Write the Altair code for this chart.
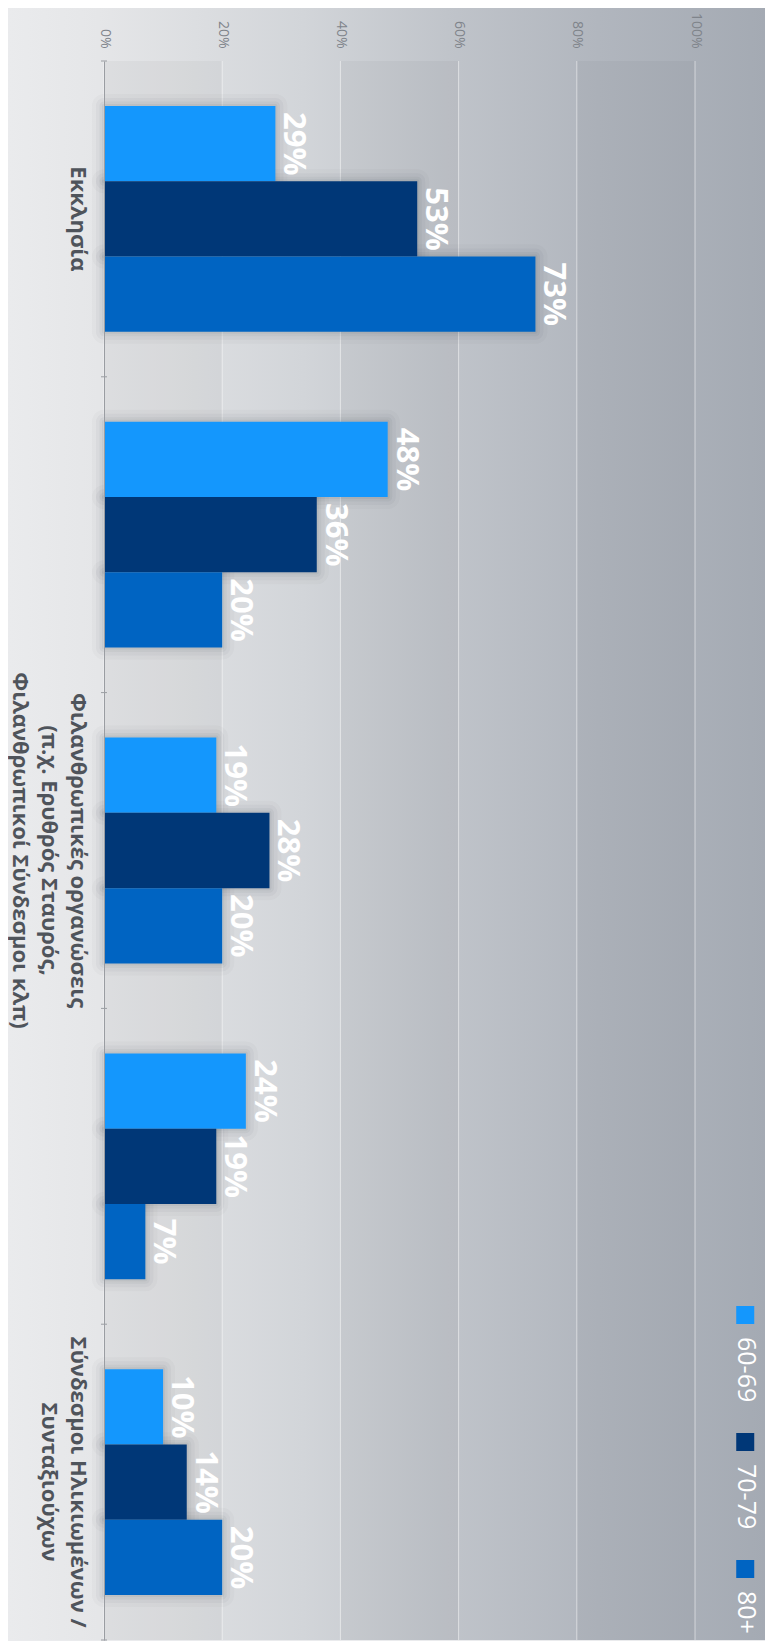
import json
import altair as alt
import pandas as pd

# ---------------- data ----------------
group_ids = [0, 1, 2, 3, 4]
group_labels = [
    "Εκκλησία",
    "",
    "Φιλανθρωπικές οργανώσεις|(π.χ. Ερυθρός Σταυρός,|Φιλανθρωπικοί Σύνδεσμοι κλπ)",
    "",
    "Σύνδεσμοι Ηλικιωμένων /|Συνταξιούχων",
]
series = ["60-69", "70-79", "80+"]
series_colors = ["#1497fd", "#003777", "#0064c2"]
values_60_69 = [29, 48, 19, 24, 10]
values_70_79 = [53, 36, 28, 19, 14]
values_80_plus = [73, 20, 20, 7, 20]
x_ticks = [0, 20, 40, 60, 80, 100]
band_starts = [0, 40, 80]
band_ends = [20, 60, 100]
group_boundaries = list(range(len(group_ids) + 1))

# ---------------- layout ----------------
W = 591
H = 1579
LEFT = 96
TOP = 53
TOTAL_W = 757
TOTAL_H = 1632
FONT = "Open Sans"

rows = []
for s, vals in zip(series, [values_60_69, values_70_79, values_80_plus]):
    for g, v in zip(group_ids, vals):
        rows.append({"g": g, "series": s, "value": v, "label": f"{v}%"})
df = pd.DataFrame(rows)
ticks_df = pd.DataFrame({"t": x_ticks})
bands_df = pd.DataFrame({"start": band_starts, "end": band_ends})
legend_df = pd.DataFrame({"series": series})
bound_df = pd.DataFrame({"b": group_boundaries})
one_df = pd.DataFrame({"a": [0]})

x_scale = alt.Scale(domain=[0, 100], nice=False)
color_scale = alt.Scale(domain=series, range=series_colors)
label_expr = "split(" + json.dumps(group_labels, ensure_ascii=False) + "[datum.value], '|')"

x_axis = alt.Axis(
    title=None,
    orient="top",
    values=x_ticks,
    labelExpr="datum.value + '%'",
    labelAngle=90,
    labelAlign="right",
    labelBaseline="middle",
    labelFont=FONT,
    labelFontSize=14,
    labelColor="#7f848b",
    labelPadding=13,
    labelOverlap=False,
    labelFlush=False,
    ticks=False,
    domain=False,
    grid=False,
    minExtent=TOP,
    maxExtent=TOP,
    zindex=1,
)

y_enc = alt.Y(
    "g:O",
    scale=alt.Scale(domain=group_ids, paddingInner=0.285, paddingOuter=0.1425),
    axis=alt.Axis(
        title=None,
        orient="left",
        labelExpr=label_expr,
        labelAngle=90,
        labelAlign="center",
        labelBaseline="top",
        labelFont=FONT,
        labelFontSize=22,
        labelFontWeight="bold",
        labelColor="#4f545b",
        labelLineHeight=29,
        labelPadding=17,
        labelLimit=0,
        labelOverlap=False,
        ticks=False,
        domainColor="#9a9da2",
        grid=False,
        minExtent=LEFT,
        maxExtent=LEFT,
        zindex=1,
    ),
)
x_enc = alt.X("value:Q", scale=x_scale, axis=x_axis)
yoff = alt.YOffset("series:N", scale=alt.Scale(domain=series))
color = alt.Color("series:N", scale=color_scale, legend=None)

# background gradient
bg = alt.Chart(one_df).mark_rect(
    color=alt.LinearGradient(
        gradient="linear",
        x1=0, x2=1, y1=0, y2=0,
        stops=[
            alt.GradientStop(color="#eaebed", offset=0),
            alt.GradientStop(color="#e5e6e8", offset=0.12),
            alt.GradientStop(color="#d2d5d9", offset=0.39),
            alt.GradientStop(color="#c0c4ca", offset=0.58),
            alt.GradientStop(color="#b1b6be", offset=0.78),
            alt.GradientStop(color="#a4aab3", offset=1),
        ],
    )
).encode(
    x=alt.value(-LEFT), x2=alt.value(TOTAL_W - LEFT),
    y=alt.value(-TOP), y2=alt.value(TOTAL_H - TOP),
)

bands = alt.Chart(bands_df).mark_rect(color="#000000", opacity=0.03).encode(
    x=alt.X("start:Q", scale=x_scale, axis=x_axis), x2="end:Q",
    y=alt.value(0), y2=alt.value(H),
)
grid = alt.Chart(ticks_df).mark_rule(color="#ffffff", opacity=0.5, strokeWidth=1).encode(
    x=alt.X("t:Q", scale=x_scale, axis=x_axis)
)

base = alt.Chart(df)
shadows = [
    base.mark_bar(fillOpacity=0, stroke="#1c2633", strokeOpacity=op, strokeWidth=w, strokeJoin="round")
    .encode(x=x_enc, y=y_enc, yOffset=yoff)
    for w, op in [(24, 0.025), (16, 0.035), (9, 0.045), (4, 0.05)]
]
bars = base.mark_bar().encode(x=x_enc, y=y_enc, yOffset=yoff, color=color)
labels = base.mark_text(
    angle=90, align="center", baseline="alphabetic", dy=-9,
    font=FONT, fontSize=31, fontWeight="bold", color="#ffffff",
).encode(x=x_enc, y=y_enc, yOffset=yoff, text="label:N")

main = alt.layer(bands, grid, *shadows, bars, labels)

# category boundary ticks on the category axis
bound_ticks = alt.Chart(bound_df).mark_rule(color="#9a9da2", strokeWidth=1).encode(
    x=alt.value(-3), x2=alt.value(3),
    y=alt.Y("b:Q", scale=alt.Scale(domain=[0, len(group_ids)], nice=False, zero=False, reverse=True), axis=None),
)

# custom legend (rotated)
leg_y = alt.Y("series:N", scale=alt.Scale(type="point", domain=series, range=[1254, 1508], padding=0), axis=None)
leg_x = alt.XDatum(108.5, type="quantitative", scale=x_scale, axis=x_axis)
leg_sq = alt.Chart(legend_df).mark_square(size=324, opacity=1).encode(x=leg_x, y=leg_y, color=color)
leg_tx = alt.Chart(legend_df).mark_text(
    angle=90, align="left", baseline="middle", dx=22, dy=-1,
    font=FONT, fontSize=25, color="#ffffff",
).encode(x=leg_x, y=leg_y, text="series:N")
legend = alt.layer(leg_sq, leg_tx)

chart = (
    alt.layer(bg, main, bound_ticks, legend)
    .resolve_scale(y="independent")
    .properties(width=W, height=H, padding=0, background="#eaebed")
    .configure_view(strokeWidth=0)
)

chart.save("out.html", embed_options={"renderer": "svg", "actions": False})
